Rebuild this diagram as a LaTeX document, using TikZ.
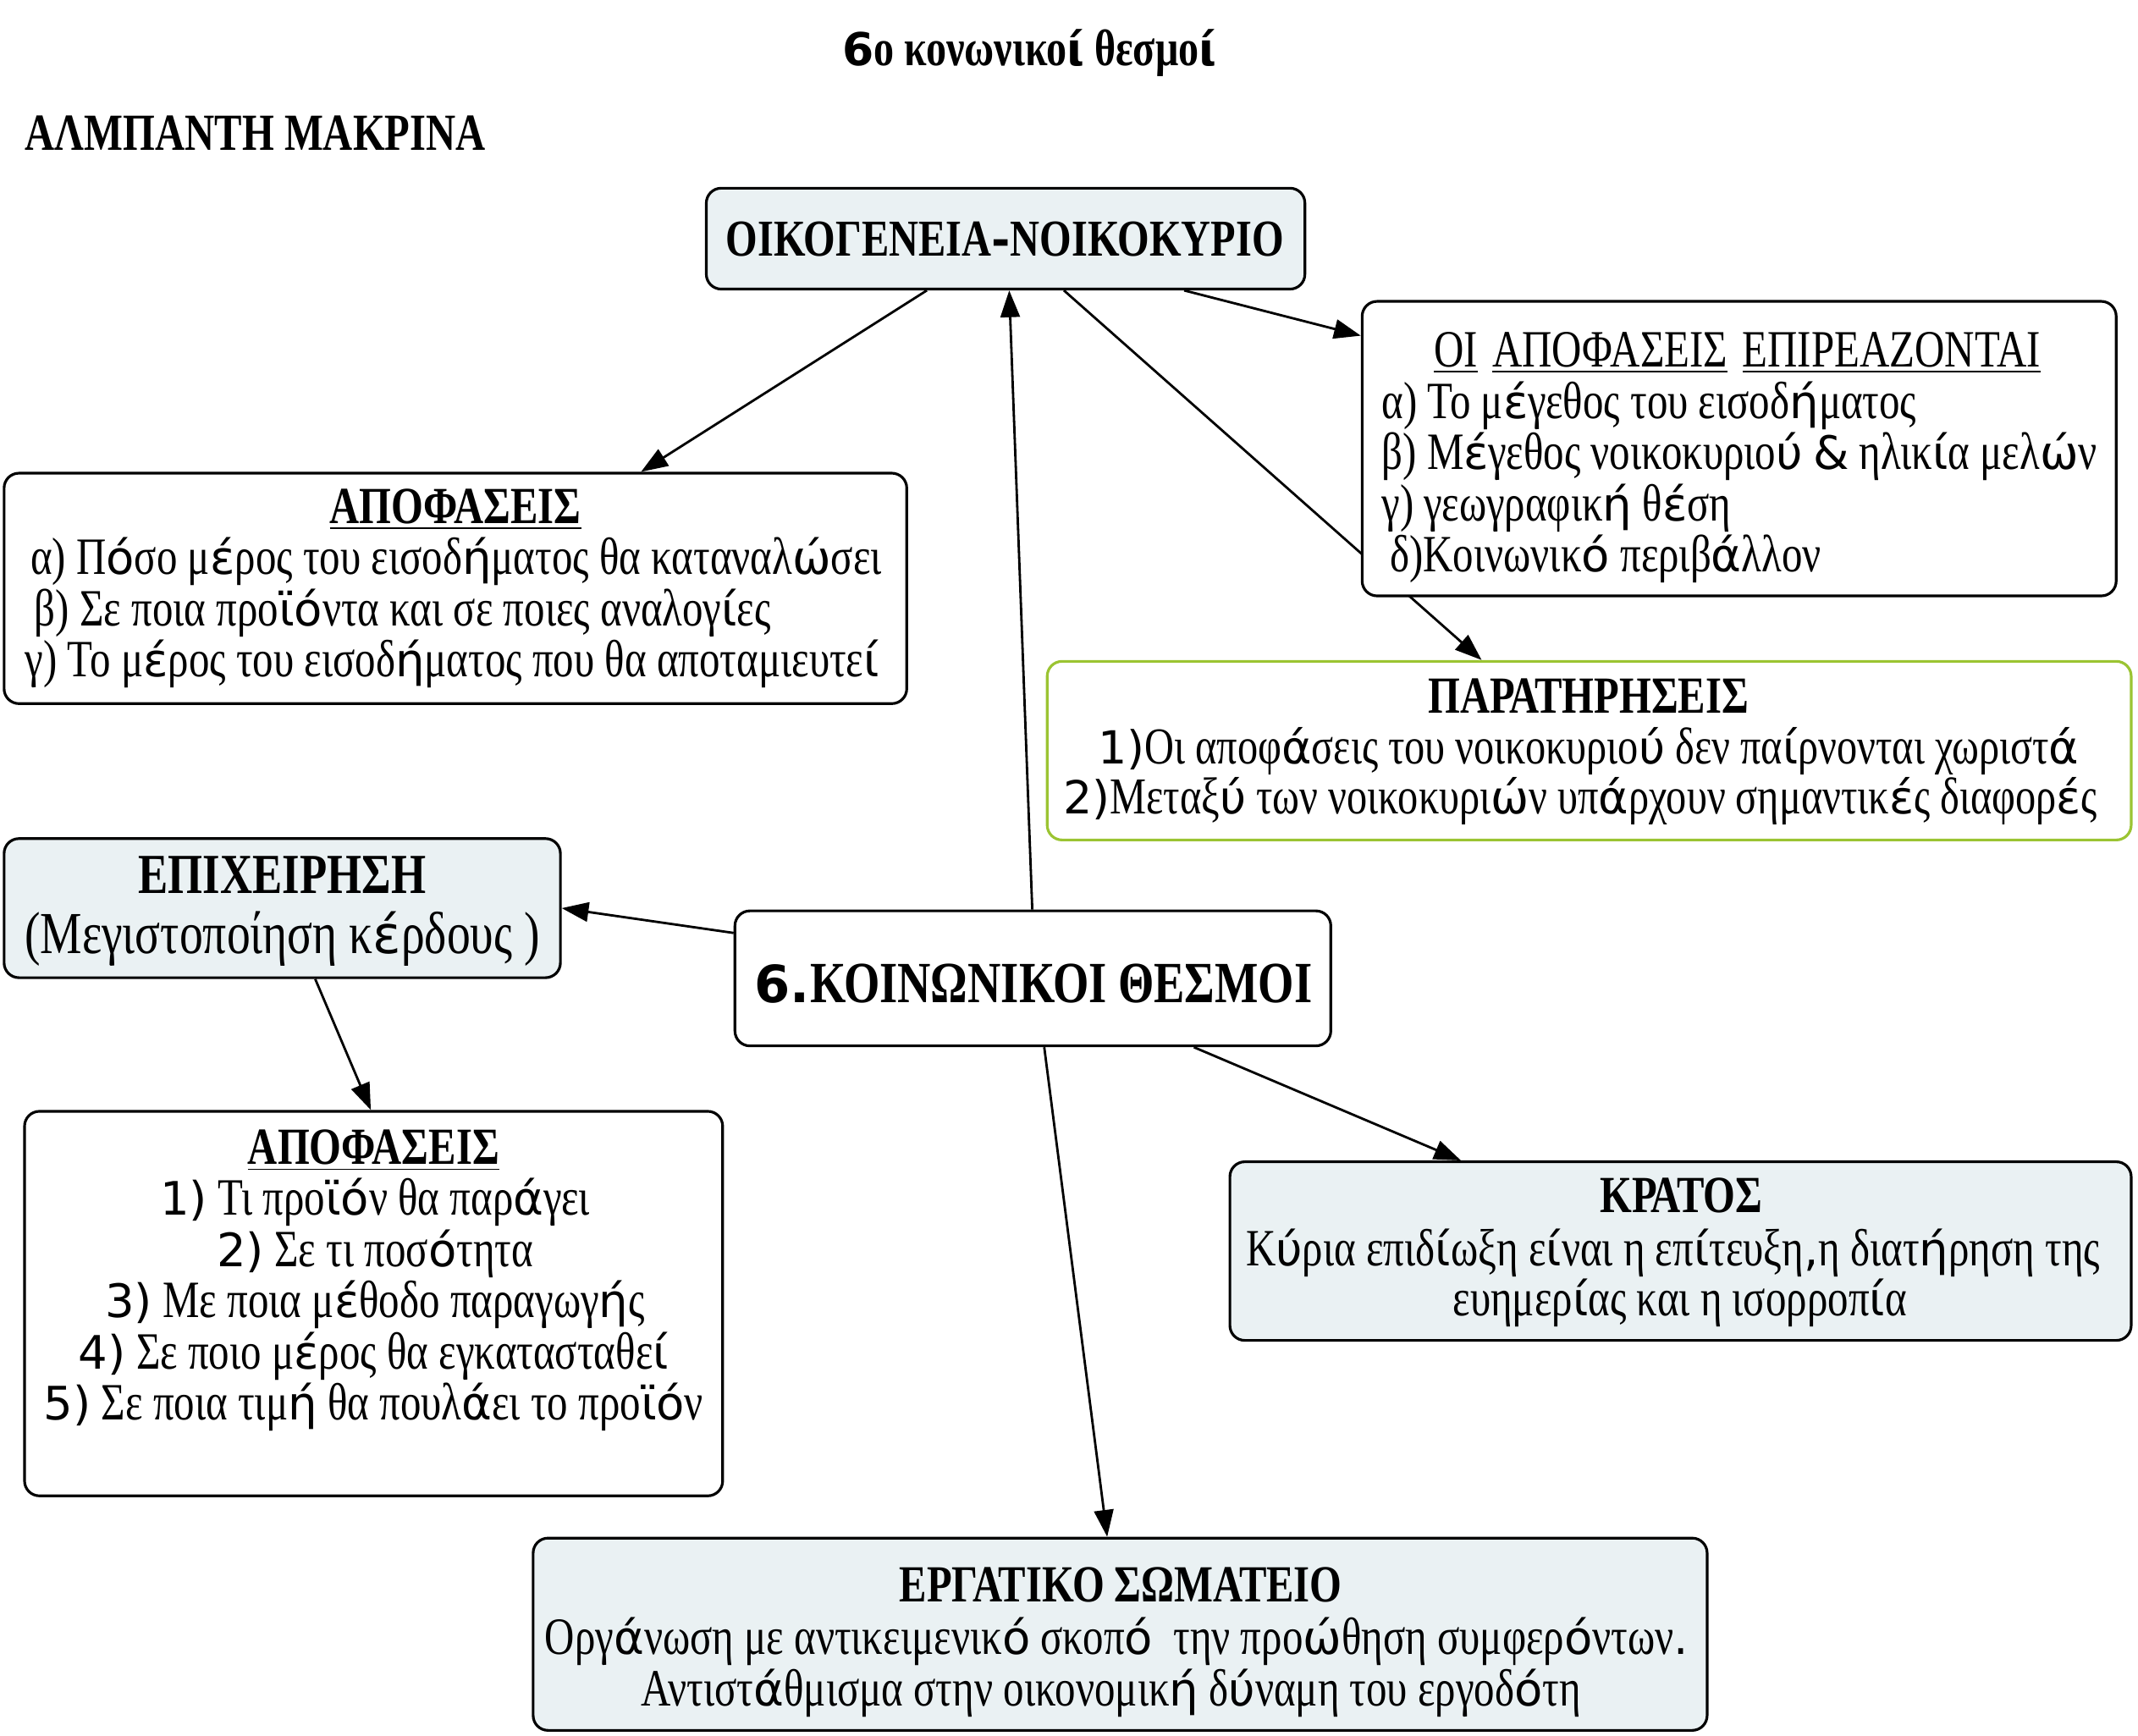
\documentclass[tikz,border=0pt]{standalone}
\usepackage{fontspec}
\setmainfont{Liberation Serif}[FakeStretch=0.79]
\newfontfamily\accfont{DejaVu Sans}[Scale=0.88]
\newcommand\Sx[1]{{\accfont #1}}
\usetikzlibrary{fit,calc,arrows.meta}
\pgfdeclarelayer{bg}\pgfsetlayers{bg,main}
\definecolor{boxfill}{RGB}{234,241,243}
\definecolor{greenline}{RGB}{155,196,50}
\tikzset{
  box/.style={draw, line width=0.9pt, rounded corners=5pt, inner sep=0pt, fill=white},
  fbox/.style={box, fill=boxfill},
  gbox/.style={box, draw=greenline},
  body/.style={inner sep=0pt, font=\fontsize{17.6}{18}\selectfont},
  head/.style={inner sep=0pt, font=\bfseries\fontsize{17.5}{18}\selectfont},
  conn/.style={line width=0.8pt, -{Triangle[length=9pt,width=6.5pt]}}
}
\begin{document}
\begin{tikzpicture}[x=0.0161cm,y=-0.0161cm]
\useasboundingbox (0,0) rectangle (1568,1273);
% boxes
\node[fbox, fit={(518,138) (957,212)}] (oik) {};
\node[box, fit={(999,221) (1552,437)}] (epir) {};
\node[box, fit={(3,347) (665,516)}] (apof1) {};
\node[gbox, fit={(768,485) (1563,616)}] (parat) {};
\node[fbox, fit={(3,615) (411,717)}] (epix) {};
\node[box, fit={(539,668) (976,767)}] (thesm) {};
\node[box, fit={(18,815) (530,1097)}] (apof2) {};
\node[fbox, fit={(902,852) (1563,983)}] (kratos) {};
\node[fbox, fit={(391,1128) (1252,1269)}] (ergat) {};
% connectors
\begin{pgfonlayer}{bg}
\draw[conn] ($(oik.south west)!0.369!(oik.south east)$) -- ($(apof1.north west)!0.705!(apof1.north east)$);
\draw[conn] ($(oik.south west)!0.797!(oik.south east)$) -- ($(epir.north west)!0.12!(epir.south west)$);
\draw[conn] ($(oik.south west)!0.597!(oik.south east)$) -- ($(parat.north west)!0.401!(parat.north east)$);
\draw[conn] ($(thesm.north west)!0.499!(thesm.north east)$) -- ($(oik.south west)!0.506!(oik.south east)$);
\draw[conn] ($(thesm.north west)!0.17!(thesm.south west)$) -- (epix.east);
\draw[conn] ($(epix.south west)!0.559!(epix.south east)$) -- ($(apof2.north west)!0.496!(apof2.north east)$);
\draw[conn] ($(thesm.south west)!0.769!(thesm.south east)$) -- ($(kratos.north west)!0.257!(kratos.north east)$);
\draw[conn] ($(thesm.south west)!0.519!(thesm.south east)$) -- ($(ergat.north west)!0.489!(ergat.north east)$);
\end{pgfonlayer}
\begin{scope}[shift={(0,2)}]
% titles
\node[head, font=\bfseries\fontsize{17.3}{18}\selectfont, anchor=base] (title) at (755,46) {\Sx{6}ο κονωνικο\Sx{ί} θεσμο\Sx{ί}};
\node[head, anchor=base west] (author) at (18,108) {ΑΛΜΠΑΝΤΗ ΜΑΚΡΙΝΑ};
% oikogeneia
\node[head, font=\bfseries\fontsize{17.4}{18}\selectfont, anchor=base] (oikt) at (737,186) {ΟΙΚΟΓΕΝΕΙΑ\Sx{-}ΝΟΙΚΟΚΥΡΙΟ};
% epireazontai
\node[body, anchor=base] (epirh) at (1274,267) {\underline{ΟΙ}\hspace{5pt}\underline{ΑΠΟΦΑΣΕΙΣ}\hspace{5pt}\underline{ΕΠΙΡΕΑΖΟΝΤΑΙ}};
\node[body, anchor=base west] (epir1) at (1013,305) {α) Το μ\Sx{έ}γεθος του εισοδ\Sx{ή}ματος};
\node[body, anchor=base west] (epir2) at (1013,342) {β) Μ\Sx{έ}γεθος νοικοκυριο\Sx{ύ} \Sx{\&} ηλικ\Sx{ί}α μελ\Sx{ώ}ν};
\node[body, anchor=base west] (epir3) at (1013,380) {γ) γεωγραφικ\Sx{ή} θ\Sx{έ}ση};
\node[body, anchor=base west] (epir4) at (1019,417) {δ)Κοινωνικ\Sx{ό} περιβ\Sx{ά}λλον};
% apofaseis 1
\node[head, anchor=base] (apof1h) at (334,382) {\underline{ΑΠΟΦΑΣΕΙΣ}};
\node[body, anchor=base west] (apof1a) at (22,419) {α) Π\Sx{ό}σο μ\Sx{έ}ρος του εισοδ\Sx{ή}ματος θα καταναλ\Sx{ώ}σει};
\node[body, anchor=base west] (apof1b) at (25,457) {β) Σε ποια προ\Sx{ϊό}ντα και σε ποιες αναλογ\Sx{ί}ες};
\node[body, anchor=base west] (apof1c) at (18,494) {γ) Το μ\Sx{έ}ρος του εισοδ\Sx{ή}ματος που θα αποταμιευτε\Sx{ί}};
% paratiriseis
\node[head, anchor=base] (parath) at (1165,521) {ΠΑΡΑΤΗΡΗΣΕΙΣ};
\node[body, font=\fontsize{17.4}{18}\selectfont, anchor=base] (parat1) at (1165,558) {\Sx{1)}Οι αποφ\Sx{ά}σεις του νοικοκυριο\Sx{ύ} δεν πα\Sx{ί}ρνονται χωριστ\Sx{ά}};
\node[body, font=\fontsize{17.4}{18}\selectfont, anchor=base] (parat2) at (1159,595) {\Sx{2)}Μεταξ\Sx{ύ} των νοικοκυρι\Sx{ώ}ν υπ\Sx{ά}ρχουν σημαντικ\Sx{έ}ς διαφορ\Sx{έ}ς};
% epixeirisi
\node[head, font=\bfseries\fontsize{19}{20}\selectfont, anchor=base] (epixh) at (207,653) {ΕΠΙΧΕΙΡΗΣΗ};
\node[body, font=\fontsize{20}{21}\selectfont, anchor=base] (epix1) at (207,697) {(Μεγιστοποίηση κ\Sx{έ}ρδους )};
% thesmoi
\node[head, font=\bfseries\fontsize{19.6}{20}\selectfont, anchor=base] (thesmt) at (758,733) {\Sx{6.}ΚΟΙΝΩΝΙΚΟΙ ΘΕΣΜΟΙ};
% apofaseis 2
\node[head, anchor=base] (apof2h) at (274,852) {\underline{ΑΠΟΦΑΣΕΙΣ}};
\node[body, anchor=base] (apof21) at (275,889) {\Sx{1)} Τι προ\Sx{ϊό}ν θα παρ\Sx{ά}γει};
\node[body, anchor=base] (apof22) at (275,927) {\Sx{2)} Σε τι ποσ\Sx{ό}τητα};
\node[body, anchor=base] (apof23) at (275,964) {\Sx{3)} Με ποια μ\Sx{έ}θοδο παραγωγ\Sx{ή}ς};
\node[body, anchor=base] (apof24) at (274,1002) {\Sx{4)} Σε ποιο μ\Sx{έ}ρος θα εγκατασταθε\Sx{ί}};
\node[body, anchor=base] (apof25) at (274,1039) {\Sx{5)} Σε ποια τιμ\Sx{ή} θα πουλ\Sx{ά}ει το προ\Sx{ϊό}ν};
% kratos
\node[head, anchor=base] (kratosh) at (1233,887) {ΚΡΑΤΟΣ};
\node[body, anchor=base] (kratos1) at (1227,926) {Κ\Sx{ύ}ρια επιδ\Sx{ί}ωξη ε\Sx{ί}ναι η επ\Sx{ί}τευξη\Sx{,}η διατ\Sx{ή}ρηση της};
\node[body, anchor=base] (kratos2) at (1232,963) {ευημερ\Sx{ί}ας και η ισορροπ\Sx{ί}α};
% ergatiko
\node[head, anchor=base] (ergath) at (822,1173) {ΕΡΓΑΤΙΚΟ ΣΩΜΑΤΕΙΟ};
\node[body, anchor=base] (ergat1) at (819,1211) {Οργ\Sx{ά}νωση με αντικειμενικ\Sx{ό} σκοπ\Sx{ό}\ \ την προ\Sx{ώ}θηση συμφερ\Sx{ό}ντων\Sx{.}};
\node[body, anchor=base] (ergat2) at (815,1249) {Αντιστ\Sx{ά}θμισμα στην οικονομικ\Sx{ή} δ\Sx{ύ}ναμη του εργοδ\Sx{ό}τη};
\end{scope}
\end{tikzpicture}
\end{document}
